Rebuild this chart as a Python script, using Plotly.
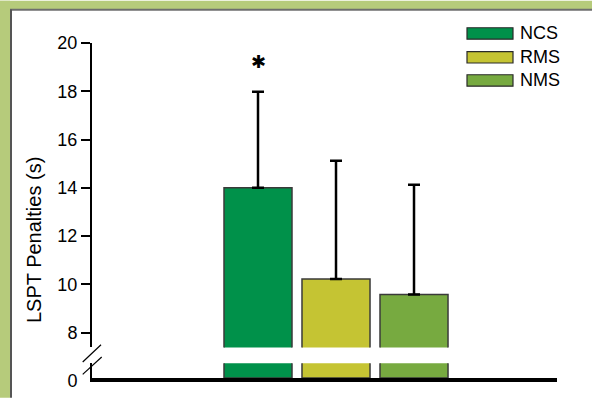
import plotly.graph_objects as go

# ---- data ----
groups = ["NCS", "RMS", "NMS"]
means = [14.0, 10.22, 9.58]
err_up = [3.98, 4.9, 4.55]
colors = ["#00914a", "#c5c433", "#77aa40"]
sig_marks = ["✱", "", ""]
y_ticks = [8, 10, 12, 14, 16, 18, 20]
y_title = "LSPT Penalties (s)"

W, H = 592, 403
L, R, T, B = 92, 557, 43, 383
PW, PH = R - L, B - T


def px(x):
    return (x - L) / PW


def py(y):
    return (B - y) / PH


FONT = "Liberation Sans, Arial, sans-serif"

fig = go.Figure()
for g, m, e, c in zip(groups, means, err_up, colors):
    # lower (broken) part
    fig.add_trace(go.Bar(x=[g], y=[m], xaxis="x", yaxis="y", width=0.872,
                         marker=dict(color=c, line=dict(color="#3a3a3a", width=1.5)),
                         showlegend=False, hoverinfo="skip"))
    # upper part with error bar
    fig.add_trace(go.Bar(x=[g], y=[m], xaxis="x2", yaxis="y2", width=0.872,
                         marker=dict(color=c, line=dict(color="#3a3a3a", width=1.5)),
                         error_y=dict(type="data", symmetric=False, array=[e], arrayminus=[0],
                                      color="black", thickness=2.5, width=6),
                         name=g, showlegend=False))

low_top = py(368)
up_bot = py(352)
up_range_min = 8 - (352 - 337) / ((337 - 43) / 12)

fig.update_layout(
    width=W, height=H,
    margin=dict(l=L, r=W - R, t=T, b=H - B),
    paper_bgcolor="white", plot_bgcolor="white",
    barmode="overlay",
    font=dict(family=FONT, size=18, color="black"),
    xaxis=dict(domain=[0, 1], anchor="y", range=[-2.128, 3.833],
               categoryorder="array", categoryarray=groups,
               showticklabels=False, ticks="", showgrid=False, zeroline=False,
               showline=True, linewidth=4, linecolor="black"),
    xaxis2=dict(domain=[0, 1], anchor="y2", matches="x", visible=False,
                categoryorder="array", categoryarray=groups),
    yaxis=dict(domain=[0, low_top], anchor="x", range=[0, 1],
               tickvals=[0], ticktext=["0"], ticks="outside", ticklen=9,
               tickcolor="rgba(0,0,0,0)", ticklabelshift=3,
               showgrid=False, zeroline=False,
               showline=True, linewidth=2, linecolor="black"),
    yaxis2=dict(domain=[up_bot, 1], anchor="x2", range=[up_range_min, 20],
                tickvals=y_ticks, ticks="outside", ticklen=9, tickwidth=2,
                tickcolor="black", showgrid=False, zeroline=False,
                showline=True, linewidth=2, linecolor="black"),
)

shapes = []
# frame: green band top and left with grey inner edge
shapes.append(dict(type="rect", xref="paper", yref="paper", x0=px(0), x1=px(W),
                   y0=py(0), y1=py(8.5), fillcolor="#b6cb7b", line=dict(width=0), layer="above"))
shapes.append(dict(type="rect", xref="paper", yref="paper", x0=px(0), x1=px(10),
                   y0=py(0), y1=py(H), fillcolor="#b6cb7b", line=dict(width=0), layer="above"))
shapes.append(dict(type="line", xref="paper", yref="paper", x0=px(10), x1=px(W),
                   y0=py(9.3), y1=py(9.3), line=dict(color="#6e6e6e", width=2), layer="above"))
shapes.append(dict(type="line", xref="paper", yref="paper", x0=px(11), x1=px(11),
                   y0=py(9), y1=py(H), line=dict(color="#555555", width=2), layer="above"))
# axis break marks
for (x0, y0, x1, y1) in [(82.7, 366.7, 101, 349.3), (82.7, 379.3, 101.7, 361.7)]:
    shapes.append(dict(type="line", xref="paper", yref="paper", x0=px(x0), y0=py(y0),
                       x1=px(x1), y1=py(y1), line=dict(color="black", width=1.2)))
# legend swatches
leg_y = [33.3, 57.5, 81.0]
for g, c, yc in zip(groups, colors, leg_y):
    shapes.append(dict(type="rect", xref="paper", yref="paper", x0=px(467), x1=px(513),
                       y0=py(yc - 5.8), y1=py(yc + 5.8), fillcolor=c,
                       line=dict(color="#2a2a2a", width=1.2)))

annotations = []
for g, yc in zip(groups, leg_y):
    annotations.append(dict(xref="paper", yref="paper", x=px(518), y=py(yc), text=g,
                            showarrow=False, xanchor="left", yanchor="middle",
                            font=dict(size=18, family=FONT, color="black")))
annotations.append(dict(xref="paper", yref="paper", x=px(34), y=py(243), text=y_title,
                        textangle=-90, showarrow=False, xanchor="center", yanchor="middle",
                        font=dict(size=20, family=FONT, color="black")))
for g, s in zip(groups, sig_marks):
    if s:
        annotations.append(dict(xref="x2", yref="y2", x=g, y=19.22, text=s, showarrow=False,
                                xanchor="center", yanchor="middle",
                                font=dict(size=18, family="DejaVu Sans", color="black")))

fig.update_layout(shapes=shapes, annotations=annotations)
fig.write_html("out.html")
